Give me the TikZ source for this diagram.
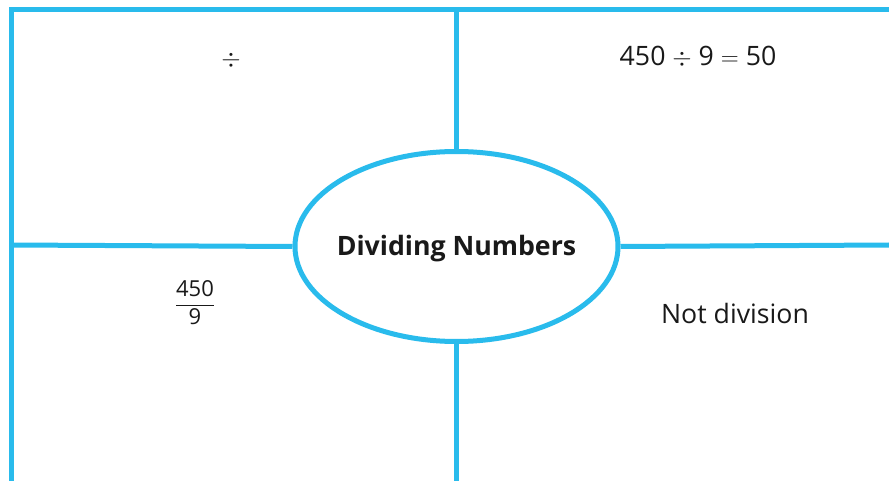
\documentclass[tikz,border=0pt]{standalone}
\usepackage{fontspec}
\setmainfont{Open Sans}
\usetikzlibrary{shapes.geometric}
\definecolor{frameblue}{RGB}{41,187,236}
\tikzset{
  frame/.style={draw=frameblue, line width=5pt},
  label/.style={inner sep=0pt, text=black!90, font=\fontsize{26.7}{32}\selectfont},
}
\begin{document}
\begin{tikzpicture}[x=1pt,y=-1pt]
\useasboundingbox (0,0) rectangle (889,481);
\fill[white] (0,0) rectangle (889,481);
\coordinate (tl) at (11,9.5);
\coordinate (tr) at (889,9.5);
\coordinate (tm) at (456.5,9.5);
\coordinate (bl) at (11,481);
\coordinate (bm) at (456.5,481);
\coordinate (ml) at (11,245);
\coordinate (mr) at (889,245);
\node[ellipse, frame, minimum width=323pt, minimum height=190pt, inner sep=0pt] (c) at (456.5,246.5) {};
\node[label, font=\bfseries\fontsize{26.7}{32}\selectfont] (ctext) at (456.5,249) {Dividing Numbers};
\draw[frame, line cap=rect] (bl) -- (tl) -- (tr);
\draw[frame] (tm) -- (c.north);
\draw[frame] (c.south) -- (bm);
\draw[frame] (ml) -- (c.west);
\draw[frame] (c.east) -- (mr);
\node[label] (div) at (231,60) {$\div$};
\node[label] (eq) at (698,57) {450 $\div$ 9 $=$ 50};
\node[label, font=\fontsize{22}{26}\selectfont] (frac) at (195,303) {$\displaystyle\frac{\mbox{450}}{\mbox{9}}$};
\node[label] (nd) at (735,313) {Not division};
\end{tikzpicture}
\end{document}
